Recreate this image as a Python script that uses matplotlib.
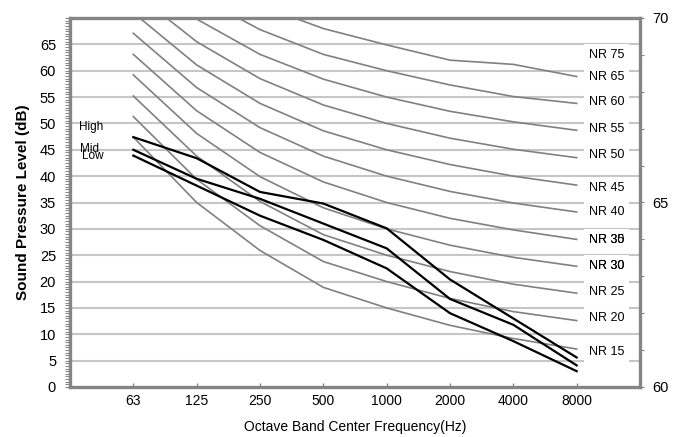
import matplotlib
matplotlib.use("Agg")
import matplotlib.pyplot as plt
import numpy as np

plt.rcParams['font.family'] = ['Liberation Sans', 'DejaVu Sans']

# ---- data ----
freqs = ["63", "125", "250", "500", "1000", "2000", "4000", "8000"]

nr15 = [47.4, 35.0, 25.9, 18.9, 15.0, 11.7, 9.2, 7.2]
nr20 = [51.3, 39.4, 30.6, 23.8, 20.0, 16.8, 14.3, 12.6]
nr25 = [55.2, 43.8, 35.2, 28.9, 25.0, 21.9, 19.5, 17.8]
nr30 = [59.2, 48.1, 39.9, 34.0, 30.0, 26.9, 24.6, 22.9]
nr35 = [63.1, 52.4, 44.5, 38.9, 35.0, 32.0, 29.8, 28.0]
nr40 = [67.1, 56.8, 49.2, 43.8, 40.0, 37.1, 34.9, 33.2]
nr45 = [71.0, 61.1, 53.8, 48.6, 45.0, 42.2, 40.0, 38.3]
nr50 = [75.0, 65.5, 58.5, 53.5, 50.0, 47.2, 45.1, 43.5]
nr55 = [79.0, 69.8, 63.1, 58.4, 55.0, 52.3, 50.3, 48.7]
nr60 = [82.9, 74.2, 67.8, 63.1, 60.0, 57.3, 55.1, 53.8]
nr65 = [86.8, 78.5, 72.4, 68.0, 64.9, 62.0, 61.2, 58.9]
nr_curves = [nr15, nr20, nr25, nr30, nr35, nr40, nr45, nr50, nr55, nr60, nr65]

high = [47.4, 43.4, 37.0, 34.8, 30.1, 20.4, 13.0, 5.6]
mid = [45.0, 39.5, 35.7, 31.0, 26.3, 16.7, 11.8, 4.1]
low = [43.9, 38.2, 32.5, 27.9, 22.5, 14.0, 8.7, 3.0]

series_names = ["High", "Mid", "Low"]
series_label_x = [0.14, 0.16, 0.19]
series_label_y = [49.3, 45.1, 43.9]

# labels with a white box, then labels printed over them without a box
nr_labels = ["NR 75", "NR 65", "NR 60", "NR 55", "NR 50", "NR 45", "NR 40",
             "NR 35", "NR 30", "NR 25", "NR 20", "NR 15"]
nr_label_y = [62.95, 58.85, 54.1, 48.9, 44.0, 37.8, 33.2,
              27.85, 23.0, 18.0, 13.0, 6.6]
nr_over_labels = ["NR 30", "NR 30"]
nr_over_y = [27.85, 23.0]

left_ticks = list(range(0, 70, 5))
right_ticks = [60, 65, 70]

# ---- figure ----
fig = plt.figure(figsize=(6.87, 4.37), dpi=100)
ax = fig.add_axes([70 / 687, 1 - 387 / 437, 570 / 687, 369 / 437])

xpos = np.arange(1, len(freqs) + 1)
spine_col = '#858585'
grid_col = '#c6c6c6'

for yv in range(5, 70, 5):
    ax.axhline(yv, color=grid_col, lw=1.5, zorder=1)

for c in nr_curves:
    ax.plot(xpos, c, color='#808080', lw=1.2, zorder=2, solid_joinstyle='round')

for s in (high, mid, low):
    ax.plot(xpos, s, color='black', lw=1.6, zorder=3, solid_joinstyle='round')

for name, lx, ly in zip(series_names, series_label_x, series_label_y):
    ax.text(lx, ly, name, fontsize=8.5, ha='left', va='center', zorder=5)

for lab, ly in zip(nr_labels, nr_label_y):
    ax.text(8.19, ly, lab, fontsize=9, ha='left', va='center', zorder=5,
            bbox=dict(boxstyle='square,pad=0.4', fc='white', ec='none'))
for lab, ly in zip(nr_over_labels, nr_over_y):
    ax.text(8.19, ly, lab, fontsize=9, ha='left', va='center', zorder=6)

ax.set_xlim(0, 9)
ax.set_ylim(0, 70)
ax.set_xticks(xpos)
ax.set_xticklabels(freqs, fontsize=10)
ax.set_yticks(left_ticks)
ax.set_yticklabels([str(t) for t in left_ticks], fontsize=10.5)
ax.set_yticks(np.arange(0, 70.01, 0.5), minor=True)
ax.tick_params(axis='x', direction='in', length=3, color=spine_col, width=1, pad=5)
ax.tick_params(axis='y', which='both', direction='out', length=3.5, color=spine_col,
               width=0.8, pad=6.5)

for sp in ['left', 'top', 'bottom']:
    ax.spines[sp].set_color(spine_col)
    ax.spines[sp].set_linewidth(2.4)
ax.spines['right'].set_visible(False)

ax.set_ylabel("Sound Pressure Level (dB)", fontsize=11, fontweight='bold', labelpad=7)
ax.set_xlabel("Octave Band Center Frequency(Hz)", fontsize=10, labelpad=9)

ax2 = ax.twinx()
ax2.set_ylim(60, 70)
ax2.set_yticks(right_ticks)
ax2.set_yticklabels([str(t) for t in right_ticks], fontsize=10.5)
ax2.set_yticks(np.arange(60, 70.01, 1), minor=True)
ax2.tick_params(axis='y', which='both', direction='out', length=3, color=spine_col,
                width=0.8, pad=6)
for sp in ['left', 'top', 'bottom']:
    ax2.spines[sp].set_visible(False)
ax2.spines['right'].set_color(spine_col)
ax2.spines['right'].set_linewidth(2.4)

fig.savefig("out.png", dpi=100)
